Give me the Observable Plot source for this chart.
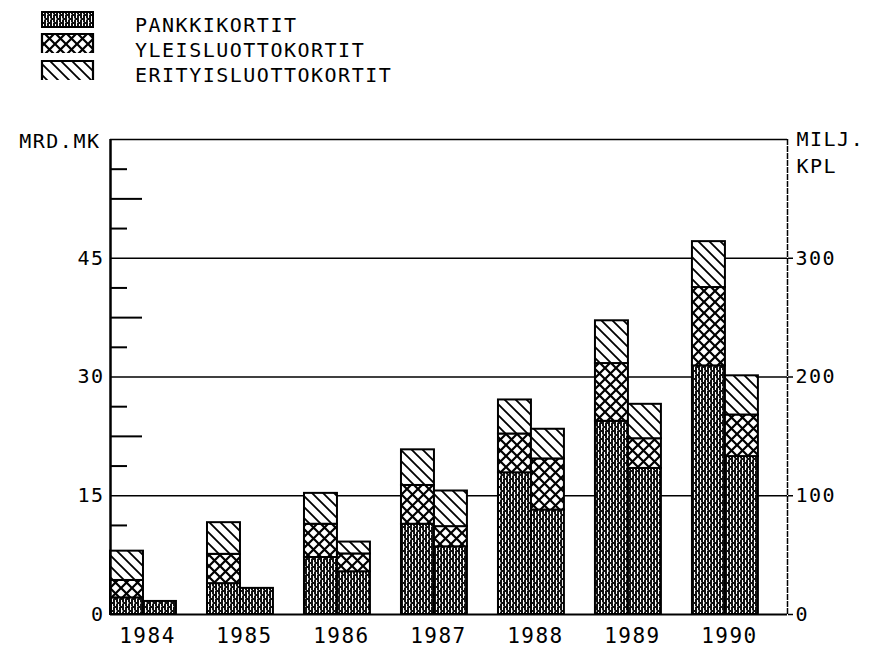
<!DOCTYPE html>
<html><head><meta charset="utf-8">
<script src="https://cdn.jsdelivr.net/npm/d3@7"></script>
<script src="https://cdn.jsdelivr.net/npm/@observablehq/plot@0.6"></script>
<style>
body{margin:0;background:#fff;font-family:"DejaVu Sans Mono",monospace;}
#legend{display:block;}
#chart svg{display:block;}
</style></head><body>
<svg width="0" height="0" style="position:absolute">
<defs>
<pattern id="pPankki" patternUnits="userSpaceOnUse" width="6" height="8">
  <rect width="6" height="8" fill="#111"/>
  <rect x="1" y="0" width="1" height="6" fill="#fff"/>
  <rect x="4" y="4" width="1" height="4" fill="#fff"/>
  <rect x="4" y="0" width="1" height="2" fill="#fff"/>
  <rect x="2" y="2" width="1" height="2" fill="#999"/>
  <rect x="5" y="6" width="1" height="1" fill="#999"/>
</pattern>
<pattern id="pYleis" patternUnits="userSpaceOnUse" width="11" height="11">
  <rect width="11" height="11" fill="#fff"/>
  <path d="M0,0L11,11M11,0L0,11" stroke="#000" stroke-width="2.2"/>
</pattern>
<pattern id="pErity" patternUnits="userSpaceOnUse" width="11" height="11">
  <rect width="11" height="11" fill="#fff"/>
  <path d="M-1,-1L12,12M-1,10L1,12M10,-1L12,1" stroke="#000" stroke-width="1.8"/>
</pattern>
</defs>
</svg>
<div id="legend"></div>
<div id="chart"></div>
<script>
// ---- data ----
const years = [1984, 1985, 1986, 1987, 1988, 1989, 1990];
const series = ["PANKKIKORTIT", "YLEISLUOTTOKORTIT", "ERITYISLUOTTOKORTIT"];
// value, MRD.MK (left bar of each year)
const mrdPankki = [2.1, 3.9, 7.2, 11.4, 17.9, 24.4, 31.4];
const mrdYleis  = [2.2, 3.7, 4.2, 4.9, 4.9, 7.3, 9.9];
const mrdErity  = [3.7, 4.0, 3.9, 4.5, 4.3, 5.4, 5.8];
// number of cards, MILJ. KPL (right bar of each year)
const kplPankki = [11, 22, 36, 57, 88, 123, 133];
const kplYleis  = [0, 0, 15, 17, 43, 25, 35];
const kplErity  = [0, 0, 10, 30, 25, 29, 33];
// axis ticks
const mrdTicks = [0, 15, 30, 45];
const kplTicks = [0, 100, 200, 300];
const minorShort = [3.75, 11.25, 18.75, 26.25, 33.75, 41.25, 48.75, 56.25];
const minorLong = [7.5, 22.5, 37.5, 52.5];
const mrdMax = 60;
const kplPerMrd = 100 / 15; // 100 milj. kpl on the right = 15 mrd.mk on the left

const patterns = ["url(#pPankki)", "url(#pYleis)", "url(#pErity)"];

// ---- table ----
const mrdCols = [mrdPankki, mrdYleis, mrdErity];
const kplCols = [kplPankki, kplYleis, kplErity];
const leftRows = [], rightRows = [];
years.forEach((year, i) => {
  series.forEach((s, j) => {
    leftRows.push({year, series: s, value: mrdCols[j][i]});
    if (kplCols[j][i] > 0) rightRows.push({year, series: s, value: kplCols[j][i] / kplPerMrd});
  });
});

const BW = 0.34;            // each bar is this fraction of a year wide
const xDomain = [1983.66, 1990.64];

// ---- legend ----
const lg = d3.select("#legend").append("svg").attr("width", 873).attr("height", 100);
const sw = [{y: 12, h: 15}, {y: 34, h: 19}, {y: 61, h: 19}];
series.forEach((s, j) => {
  const g = lg.append("g");
  g.append("rect").attr("x", 42).attr("y", sw[j].y).attr("width", 51).attr("height", sw[j].h)
    .attr("fill", patterns[j]).attr("stroke", j === 0 ? "#000" : "none").attr("stroke-width", 2);
  if (j > 0) {
    g.append("path").attr("d", `M42,${sw[j].y + sw[j].h}V${sw[j].y}H93V${sw[j].y + sw[j].h}`)
      .attr("fill", "none").attr("stroke", "#000").attr("stroke-width", 2.2);
  }
  lg.append("text").attr("x", 135).attr("y", 32 + 25 * j).text(s)
    .attr("font-family", "DejaVu Sans Mono").attr("font-size", 20).attr("letter-spacing", 1.5).attr("fill", "#000");
});

// ---- chart ----
const bar = (rows, left) => Plot.rect(rows, Plot.stackY({
  x: "year",
  x1: left ? d => d.year - BW : "year",
  x2: left ? "year" : d => d.year + BW,
  y: "value",
  fill: "series",
  stroke: "#000",
  strokeWidth: 2
}));

const chart = Plot.plot({
  width: 873,
  height: 552,
  marginTop: 35,
  marginBottom: 42,
  marginLeft: 110,
  marginRight: 86,
  x: {domain: xDomain, axis: null},
  y: {domain: [0, mrdMax], axis: null},
  color: {domain: series, range: patterns},
  style: {fontFamily: "DejaVu Sans Mono", fontSize: "20px", color: "#000", background: "#fff", overflow: "visible"},
  marks: [
    Plot.ruleY(mrdTicks.slice(1), {stroke: "#000", strokeWidth: 1.5}),
    Plot.ruleY([mrdMax], {stroke: "#000", strokeWidth: 1.6}),
    Plot.axisY({anchor: "left", ticks: minorShort, tickSize: -17, tickFormat: () => "", strokeWidth: 2, label: null}),
    Plot.axisY({anchor: "left", ticks: minorLong, tickSize: -32, tickFormat: () => "", strokeWidth: 2, label: null}),
    bar(leftRows, true),
    bar(rightRows, false),
    Plot.ruleY([0], {stroke: "#000", strokeWidth: 2}),
    Plot.ruleX([xDomain[0]], {stroke: "#000", strokeWidth: 2.5}),
    Plot.ruleX([xDomain[1]], {stroke: "#000", strokeWidth: 1.5, strokeDasharray: "6,1"}),
    Plot.axisY({anchor: "left", ticks: mrdTicks, tickSize: 0, tickPadding: 6, fontSize: 20, label: null}),
    Plot.axisY({anchor: "right", ticks: kplTicks.map(k => k / kplPerMrd), tickFormat: d => String(Math.round(d * kplPerMrd)), tickSize: 5, tickPadding: 3, fontSize: 20, strokeWidth: 1.5, label: null}),
    Plot.axisX({ticks: years, tickFormat: d => String(d), tickSize: 0, tickPadding: 14, fontSize: 21, dx: 4, label: null}),
    Plot.text(["MRD.MK"], {frameAnchor: "top-left", dx: -10, dy: 2, textAnchor: "end", lineAnchor: "middle", fontSize: 20}),
    Plot.text(["MILJ.\nKPL"], {frameAnchor: "top-right", dx: 9, dy: 11, textAnchor: "start", lineAnchor: "middle", lineHeight: 1.35, fontSize: 20})
  ]
});
document.getElementById("chart").appendChild(chart);
d3.select(chart).selectAll("text").attr("letter-spacing", 1.5);
</script>
</body></html>
